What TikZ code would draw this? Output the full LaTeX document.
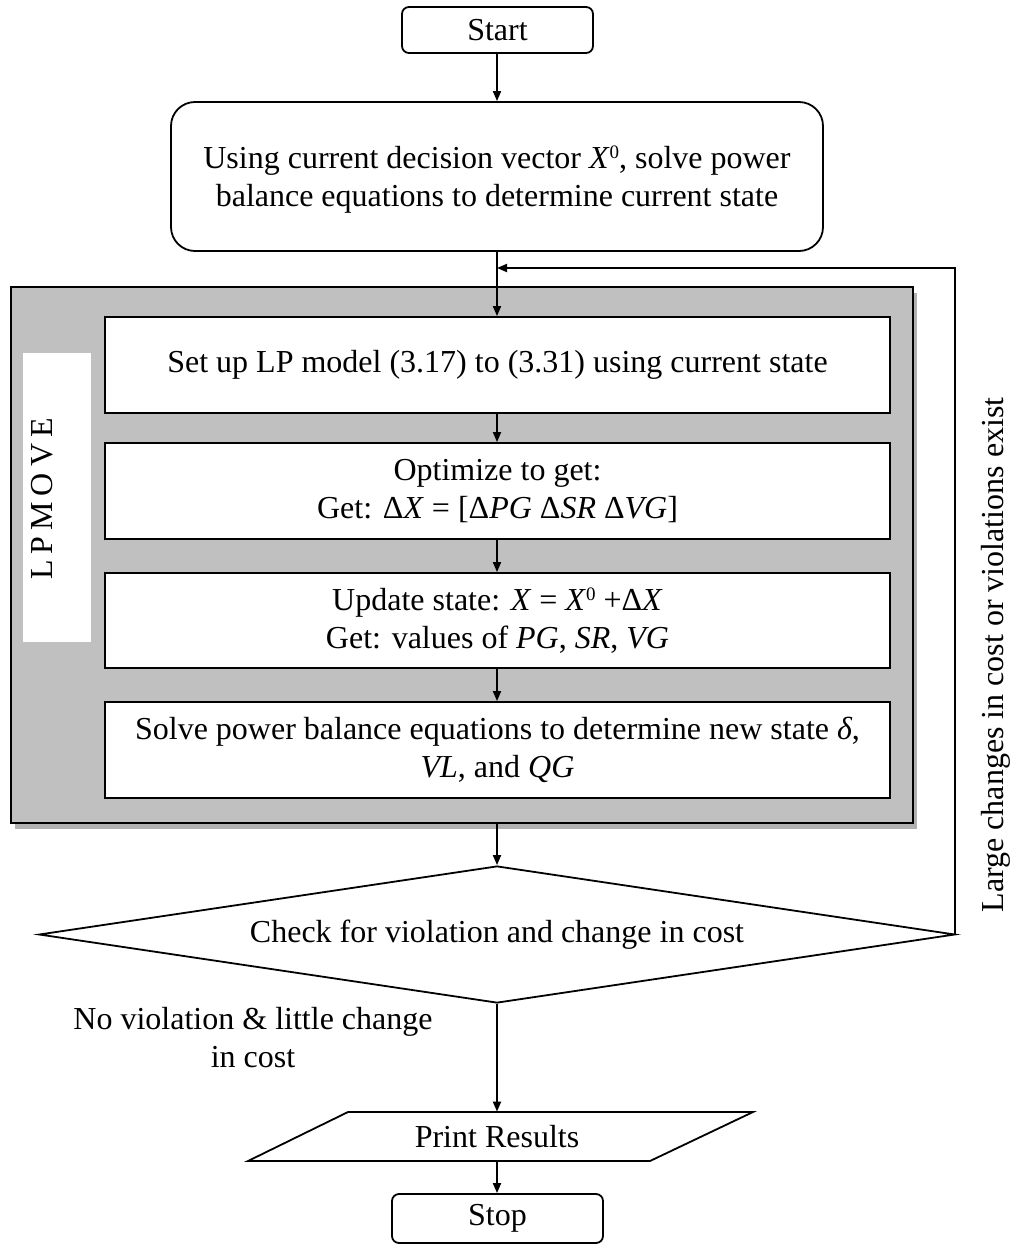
\documentclass[tikz,border=0pt]{standalone}
\usepackage{fontspec}
\setmainfont{Liberation Serif}
\usetikzlibrary{shapes.geometric,arrows.meta,shadows}
\definecolor{lpgray}{HTML}{C0C0C0}
% small raised zero used for the initial decision vector
\newcommand\supzero{\raisebox{4.6pt}{\fontsize{9.5}{10}\selectfont 0}}
\newcommand\lsp{\hspace{3pt}}
\begin{document}
\begin{tikzpicture}[x=0.5pt,y=-0.5pt,
  every node/.style={font=\fontsize{16}{19}\selectfont, inner sep=0pt, align=center},
  line/.style={line width=0.9pt},
  flow/.style={line, -{Triangle[length=5pt,width=4pt]}},
  terminal/.style={draw, line, rounded corners=3.5pt, minimum height=23pt},
  stepbox/.style={draw, line, fill=white, minimum width=392.5pt, minimum height=48pt},
]
\fill[white] (0,0) rectangle (1014,1247);
\useasboundingbox (0,0) rectangle (1014,1247);

% start and initial power-flow solution
\node (start) [terminal, minimum width=95.5pt] at (497.5,30) {Start};
\node (init) [draw, line, rounded corners=12pt, minimum width=326pt, minimum height=74.5pt]
  at (497,176.5) {\rule{0pt}{14pt}Using current decision vector \textit{X}\supzero, solve power\\balance equations to determine current state};

% LPMOVE block
\node (lp) [draw, line, fill=lpgray, minimum width=451pt, minimum height=268pt,
  drop shadow={shadow xshift=1.75pt, shadow yshift=-3pt, fill=black!30, opacity=1}] at (462,555) {};
\node (lpbox) [fill=white, minimum width=34pt, minimum height=144.5pt] at (57,497.5) {};
\node (lptext) [rotate=90] at (42.5,499) {L\lsp P\lsp M\lsp O\lsp V\lsp E};

\node (b1) [stepbox] at (497.5,365) {Set up LP model (3.17) to (3.31) using current state};
\node (b2) [stepbox] at (497.5,491) {Optimize to get:\\Get: Δ\textit{X} = [Δ\textit{PG} Δ\textit{SR} Δ\textit{VG}]};
\node (b3) [stepbox, minimum height=47.5pt] at (497.5,620.5) {Update state: \textit{X} = \textit{X}\supzero\ +Δ\textit{X}\\Get: values of \textit{PG}, \textit{SR}, \textit{VG}};
\node (b4) [stepbox] at (497.5,750) {Solve power balance equations to determine new state \textit{δ},\\\textit{VL}, and \textit{QG}};

% decision
\node (check) [draw, line, diamond, shape aspect=6.7, minimum width=458pt, minimum height=68.5pt]
  at (497,934.5) {Check for violation and change in cost};

% output and stop
\draw[line] (248,1161) -- (348,1112) -- (753,1112) -- (650,1161) -- cycle;
\node (print) [minimum width=150pt, minimum height=24.5pt] at (497,1136.5) {Print Results};
\node (stop) [terminal, minimum width=105.5pt, minimum height=24.5pt] at (497.5,1218.5) {Stop};

% labels
\node (large) [rotate=90] at (995.5,655) {Large changes in cost or violations exist};
\node (noviol) at (253,1038) {No violation \& little change\\in cost};

% connectors
\coordinate (merge) at (497,268);
\coordinate (loop) at (955,268);
\draw[flow] (start.south) -- (init.south |- start.south) -- (init.north);
\draw[flow] (init.south) -- (b1.north -| init.south);
\draw[flow] (b1.south -| init.south) -- (b2.north -| init.south);
\draw[flow] (b2.south -| init.south) -- (b3.north -| init.south);
\draw[flow] (b3.south -| init.south) -- (b4.north -| init.south);
\draw[flow] (lp.south -| check.north) -- (check.north);
\draw[flow] (check.east) -| (loop) -- (merge);
\draw[flow] (check.south) -- (print.north);
\draw[flow] (print.south) -- (stop.north -| print.south);
\end{tikzpicture}
\end{document}
